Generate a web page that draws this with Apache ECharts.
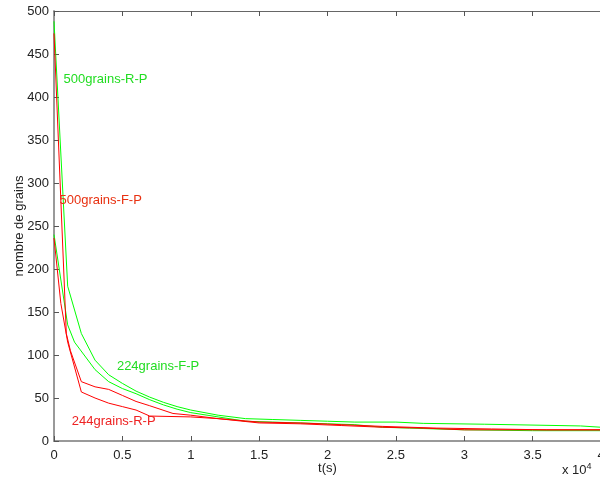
<!DOCTYPE html>
<html><head><meta charset="utf-8">
<script src="https://cdn.jsdelivr.net/npm/echarts@6/dist/echarts.min.js"></script>
<style>html,body{margin:0;padding:0;background:#fff;}#c{width:600px;height:481px;}</style>
</head><body><div id="c"></div>
<script>
const xTicks = [0, 0.5, 1, 1.5, 2, 2.5, 3, 3.5, 4];
const yTicks = [0, 50, 100, 150, 200, 250, 300, 350, 400, 450, 500];
const seriesNames = ['500grains-R-P', '224grains-F-P', '500grains-F-P', '244grains-R-P'];
const g500RP = [[0,488],[0.1,180],[0.2,125],[0.3,94],[0.4,77],[0.5,67],[0.6,58],[0.7,51],[0.8,45],[0.9,40],[1.0,36],[1.2,30],[1.4,26],[1.6,25],[1.8,24],[2.0,23],[2.2,22],[2.5,22],[2.7,20.5],[3.15,19.5],[3.85,17.5],[4.0,16]];
const g224FP = [[0,240],[0.1,135],[0.15,115],[0.3,83],[0.4,69],[0.5,61],[0.6,55],[0.7,48],[0.8,42],[0.9,37],[1.0,33],[1.2,28],[1.4,23],[1.6,22],[1.8,21],[2.0,20],[2.2,19],[2.4,16],[2.6,15],[3.0,13],[3.5,12],[4.0,12]];
const r500FP = [[0,474],[0.09,125],[0.12,105],[0.2,69],[0.3,63],[0.4,60],[0.5,53],[0.6,46],[0.7,41],[0.87,32],[1.0,30],[1.2,26],[1.5,21],[1.8,20],[2.1,18],[2.4,16],[2.7,15],[3.0,13],[3.5,13],[4.0,13]];
const r244RP = [[0,236],[0.05,160],[0.1,115],[0.2,57],[0.3,50],[0.4,44],[0.5,40],[0.6,36],[0.7,29],[1.0,28],[1.2,26],[1.5,22],[1.8,21],[2.1,19],[2.4,17],[2.8,15],[3.2,14],[3.6,13],[4.0,13]];
const labelPos = [[0.07,420],[0.46,87],[0.04,280],[0.13,23]];

const chart = echarts.init(document.getElementById('c'));
const font = 'Liberation Sans, Arial, sans-serif';
const axisBase = {
  type: 'value', min: 0,
  axisLine: {show: true, lineStyle: {color: '#999', width: 2}},
  axisTick: {show: true, inside: true, length: 5, lineStyle: {color: '#555'}},
  splitLine: {show: false},
  axisLabel: {color: '#222', fontFamily: font, fontSize: 13}
};
function mk(name, data, color, labelColor, lp) {
  return {
    name: name, type: 'line', data: data, symbol: 'none', silent: true,
    lineStyle: {color: color, width: 1}, animation: false,
    markPoint: {
      symbol: 'rect', symbolSize: 0,
      data: [{coord: lp, value: name}],
      label: {show: true, formatter: name, color: labelColor, fontFamily: font, fontSize: 13, position: 'right', distance: 0}
    }
  };
}
chart.setOption({
  animation: false,
  grid: {left: 54, top: 11, width: 547, height: 430, containLabel: false, outerBoundsMode: 'none'},
  xAxis: [
    Object.assign({}, axisBase, {max: 4, interval: 0.5, position: 'bottom',
      axisLabel: {color: '#222', fontFamily: font, fontSize: 13, margin: 8,
        formatter: v => xTicks.includes(v) ? String(v) : ''},
      name: 't(s)', nameLocation: 'middle', nameGap: 21, nameMoveOverlap: false,
      nameTextStyle: {color: '#222', fontFamily: font, fontSize: 13}}),
    Object.assign({}, axisBase, {max: 4, interval: 0.5, position: 'top',
      axisLine: {show: true, lineStyle: {color: '#666', width: 1}},
      axisLabel: {show: false}})
  ],
  yAxis: [
    Object.assign({}, axisBase, {max: 500, interval: 50, position: 'left',
      axisLabel: {color: '#222', fontFamily: font, fontSize: 13, margin: 5,
        formatter: v => yTicks.includes(v) ? String(v) : ''},
      name: 'nombre de grains', nameLocation: 'middle', nameGap: 28, nameRotate: 90, nameMoveOverlap: false,
      nameTextStyle: {color: '#222', fontFamily: font, fontSize: 13}})
  ],
  graphic: [{
    type: 'text', left: 562, top: 462,
    style: {text: 'x 10{s|4}', rich: {s: {fontSize: 9, verticalAlign: 'top', padding: [0,0,8,0]}},
      fill: '#222', font: '13px Liberation Sans, Arial, sans-serif'}
  }],
  series: [
    mk(seriesNames[0], g500RP, '#00ff00', '#22dd22', labelPos[0]),
    mk(seriesNames[1], g224FP, '#00ff00', '#22dd22', labelPos[1]),
    mk(seriesNames[2], r500FP, '#ff0000', '#e83010', labelPos[2]),
    mk(seriesNames[3], r244RP, '#ff0000', '#ee2222', labelPos[3])
  ]
});
</script></body></html>
